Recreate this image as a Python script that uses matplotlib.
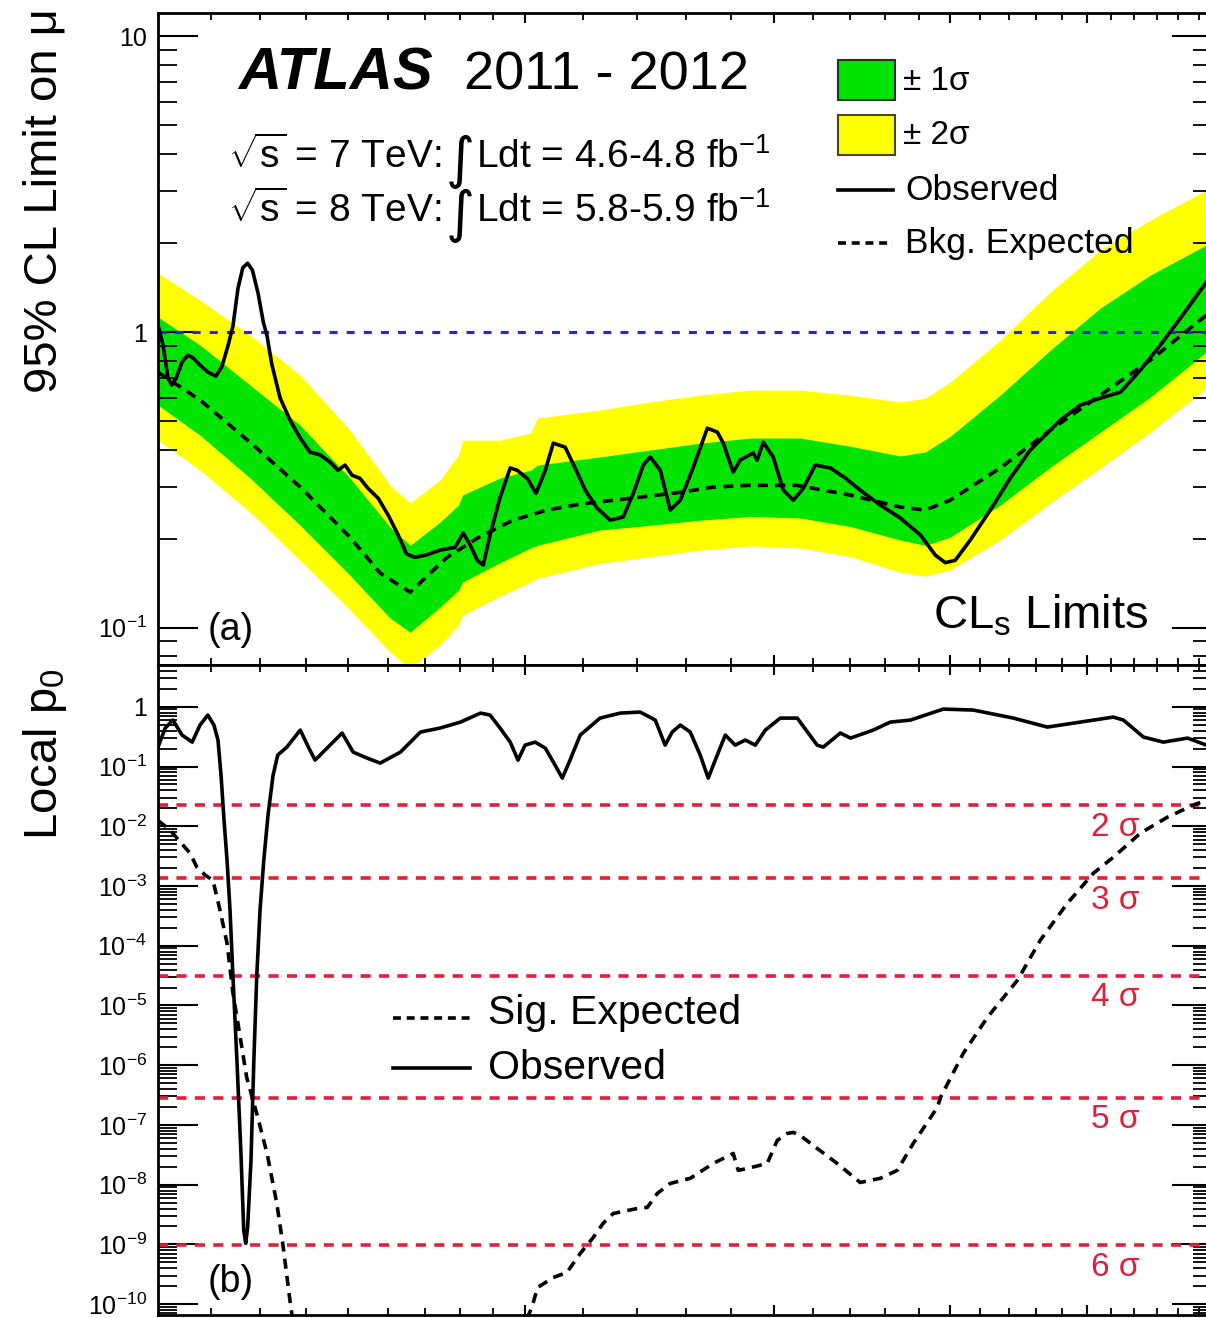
import numpy as np
import matplotlib
matplotlib.use("Agg")
import matplotlib.pyplot as plt
from matplotlib.ticker import FixedLocator, LogLocator, FuncFormatter, NullFormatter
from matplotlib.patches import Rectangle
from matplotlib.lines import Line2D

plt.rcParams['font.family'] = ['Liberation Sans', 'DejaVu Sans']
plt.rcParams['mathtext.fontset'] = 'custom'
plt.rcParams['mathtext.rm'] = 'Liberation Sans'
plt.rcParams['mathtext.it'] = 'Liberation Sans:italic'
plt.rcParams['mathtext.bf'] = 'Liberation Sans:bold'

# ---------------- (a) CLs limits on mu ----------------
band_m = [110.0, 117.8, 127.8, 138.7, 150.4, 160.6, 165.9, 174.2, 179.5, 180.7, 192.1,
          201.9, 204.2, 226.1, 245.4, 266.2, 288.8, 313.3, 339.9, 368.8, 384.2, 400.1,
          434.1, 471.0, 511.1, 554.5, 607.5, 620.0]
band_lo2 = [0.431, 0.341, 0.246, 0.169, 0.115, 0.0826, 0.0729, 0.0873, 0.102, 0.1103, 0.128,
            0.1426, 0.147, 0.165, 0.174, 0.183, 0.189, 0.186, 0.174, 0.154, 0.1494, 0.157,
            0.198, 0.264, 0.347, 0.459, 0.646, 0.70]
band_lo1 = [0.566, 0.448, 0.321, 0.222, 0.1505, 0.1077, 0.0966, 0.1173, 0.134, 0.1426, 0.166,
            0.186, 0.190, 0.214, 0.222, 0.231, 0.238, 0.235, 0.220, 0.198, 0.190, 0.2025,
            0.260, 0.349, 0.459, 0.603, 0.856, 0.93]
band_hi1 = [1.124, 0.904, 0.662, 0.484, 0.321, 0.219, 0.190, 0.2275, 0.260, 0.281, 0.321,
            0.341, 0.355, 0.378, 0.399, 0.421, 0.438, 0.438, 0.411, 0.381, 0.393, 0.444,
            0.612, 0.869, 1.206, 1.559, 1.970, 2.10]
band_hi2 = [1.584, 1.283, 0.977, 0.715, 0.466, 0.3035, 0.264, 0.316, 0.384, 0.431, 0.431,
            0.455, 0.512, 0.545, 0.580, 0.612, 0.636, 0.636, 0.612, 0.580, 0.598, 0.677,
            0.939, 1.366, 1.895, 2.393, 3.02, 3.20]

exp_m = [110.0, 117.8, 127.8, 138.7, 150.4, 158.0, 165.9, 176.2, 185.1, 196.2, 207.4, 218.9,
         237.5, 257.7, 271.9, 287.4, 311.8, 339.9, 368.8, 384.2, 400.1, 434.1, 471.0, 511.1,
         554.5, 607.5, 620.0]
exp_mu = [0.732, 0.589, 0.424, 0.299, 0.2025, 0.153, 0.132, 0.173, 0.201, 0.231, 0.250, 0.262,
          0.274, 0.287, 0.299, 0.303, 0.303, 0.281, 0.256, 0.250, 0.270, 0.347, 0.466, 0.612,
          0.804, 1.142, 1.24]

obs_m = [110.0, 110.9, 111.8, 112.5, 113.3, 114.4, 115.5, 116.5, 117.8, 119.3, 120.9, 122.1,
         123.3, 124.3, 125.3, 126.3, 127.3, 128.3, 129.5, 130.6, 131.4, 132.4, 134.2, 136.4,
         138.7, 140.9, 143.3, 145.6, 147.5, 149.2, 150.9, 152.9, 154.9, 157.5, 160.1, 162.7,
         164.9, 167.1, 170.2, 174.2, 178.5, 180.9, 183.0, 185.1, 186.9, 189.0, 192.1, 195.3,
         197.5, 200.8, 203.7, 206.8, 209.5, 213.6, 217.1, 220.7, 225.0, 229.9, 234.8, 238.7,
         242.6, 245.4, 249.4, 253.5, 257.7, 263.2, 269.3, 273.7, 276.4, 280.9, 284.1, 290.2,
         292.1, 295.0, 299.8, 304.8, 309.8, 314.9, 321.1, 329.1, 337.2, 345.5, 357.0, 368.8,
         381.1, 390.5, 396.9, 403.4, 413.4, 427.1, 441.3, 455.9, 478.8, 494.6, 511.1, 528.0,
         545.5, 563.6, 582.3, 607.5, 616.4]
obs_mu = [1.056, 0.904, 0.699, 0.662, 0.699, 0.792, 0.836, 0.817, 0.773, 0.732, 0.710, 0.767,
          0.90, 1.05, 1.40, 1.65, 1.71, 1.62, 1.35, 1.08, 0.97, 0.78, 0.60, 0.504,
          0.438, 0.393, 0.384, 0.363, 0.341, 0.355, 0.328, 0.320, 0.296, 0.274, 0.240, 0.206,
          0.178, 0.173, 0.176, 0.183, 0.187, 0.209, 0.190, 0.169, 0.163, 0.206, 0.276, 0.347,
          0.341, 0.320, 0.285, 0.341, 0.421, 0.408, 0.347, 0.292, 0.254, 0.231, 0.237, 0.285,
          0.355, 0.378, 0.341, 0.250, 0.270, 0.349, 0.473, 0.459, 0.421, 0.336, 0.369, 0.390,
          0.369, 0.424, 0.378, 0.292, 0.270, 0.296, 0.355, 0.347, 0.321, 0.292, 0.260, 0.235,
          0.206, 0.176, 0.166, 0.169, 0.198, 0.250, 0.321, 0.399, 0.504, 0.566, 0.598, 0.626,
          0.744, 0.904, 1.115, 1.476, 1.621]

# ---------------- (b) local p0 ----------------
p0_obs_m = [110.0, 111.3, 112.7, 114.4, 116.3, 117.8, 119.3, 120.5, 121.3, 121.9, 122.5, 123.1,
            123.7, 124.3, 125.1, 125.9, 126.5, 126.9, 127.3, 128.0, 128.6, 129.2, 129.9, 130.7,
            131.6, 132.7, 133.7, 135.7, 138.7, 140.9, 142.1, 145.6, 148.5, 151.2, 154.7, 158.0,
            163.3, 168.7, 174.2, 180.1, 186.1, 189.0, 192.1, 195.3, 197.8, 200.1, 203.4, 206.8,
            210.1, 212.6, 215.3, 218.9, 226.1, 233.7, 241.4, 247.4, 251.4, 254.3, 257.7, 261.9,
            266.2, 269.7, 272.8, 277.3, 281.8, 286.5, 291.2, 296.0, 303.3, 311.8, 322.1, 325.3,
            334.5, 340.1, 352.9, 362.9, 374.9, 395.6, 415.5, 443.5, 468.7, 494.6, 522.0, 530.6,
            548.2, 566.3, 589.0, 607.5, 616.4]
p0_obs = [0.211, 0.440, 0.598, 0.336, 0.256, 0.494, 0.726, 0.494, 0.277, 0.0718, 0.01265, 0.0027,
          3.93e-4, 2.97e-5, 1.21e-6, 3.75e-8, 1.71e-9, 1.04e-9, 1.93e-9, 2.55e-8, 1.21e-6, 2.97e-5,
          3.93e-4, 0.0027, 0.0153, 0.0718, 0.155, 0.211, 0.407, 0.188, 0.128, 0.228, 0.363, 0.174,
          0.138, 0.114, 0.174, 0.377, 0.440, 0.554, 0.784, 0.726, 0.440, 0.256, 0.128, 0.228,
          0.256, 0.203, 0.106, 0.064, 0.128, 0.336, 0.646, 0.784, 0.815, 0.598, 0.228, 0.377,
          0.494, 0.377, 0.155, 0.064, 0.128, 0.336, 0.228, 0.277, 0.228, 0.407, 0.646, 0.646,
          0.228, 0.211, 0.363, 0.299, 0.407, 0.554, 0.598, 0.915, 0.88, 0.646, 0.457, 0.554,
          0.672, 0.598, 0.311, 0.256, 0.299, 0.228, 0.22]

# signal-expected p0: two visible pieces, the middle range lies far below the axis
p0_sig_m = [110.0, 110.4, 112.2, 114.6, 115.9, 117.2, 118.8, 120.3, 121.7, 123.1, 124.3, 125.7,
            127.1, 129.2, 131.4, 133.5, 134.8, 136.4, 137.5, np.nan,
            200.4, 202.3, 204.2, 209.5, 214.2, 218.9, 223.6, 227.2, 231.0, 241.4, 244.2, 248.2,
            253.5, 261.9, 271.9, 280.9, 283.2, 287.4, 296.9, 301.8, 306.8, 309.8, 313.3, 320.0,
            332.8, 345.5, 357.0, 367.0, 376.7, 391.8, 393.8, 408.7, 425.1, 446.4, 463.4, 484.3,
            505.3, 522.0, 545.5, 570.1, 594.7, 607.5, 616.4]
p0_sig = [0.0125, 0.0117, 0.0086, 0.0048, 0.00354, 0.00206, 0.00152, 0.00125, 3.93e-4, 1.10e-4,
          1.6e-5, 3.2e-6, 6.27e-7, 1.56e-7, 3.34e-8, 4.86e-9, 1.04e-9, 1.15e-10, 3e-11, np.nan,
          5.3e-11, 8.8e-11, 1.9e-10, 2.8e-10, 3.4e-10, 7.07e-10, 1.31e-9, 2.25e-9, 3.30e-9,
          4.1e-9, 4.17e-9, 7.15e-9, 1.05e-8, 1.28e-8, 2.27e-8, 3.34e-8, 1.74e-8, 1.87e-8, 2.27e-8,
          5.52e-8, 7.23e-8, 7.5e-8, 6.7e-8, 4.55e-8, 2.27e-8, 1.09e-8, 1.28e-8, 1.74e-8, 4.92e-8,
          1.97e-7, 2.9e-7, 1.58e-6, 6.34e-6, 2.64e-5, 1.24e-4, 5.15e-4, 1.64e-3, 3.04e-3,
          7.66e-3, 0.0142, 0.0226, 0.0274, 0.030]

sigma_p = [2.28e-2, 1.35e-3, 3.17e-5, 2.87e-7, 9.87e-10]
sigma_names = ['2 σ', '3 σ', '4 σ', '5 σ', '6 σ']

x_major = [200, 300, 400, 500]
x_minor = list(range(120, 200, 10)) + [220, 240, 260, 280, 320, 340, 360, 380,
                                       420, 440, 460, 480, 520, 540, 560, 580, 600]

# ---------------- figure ----------------
W, H = 1206, 1318
fig = plt.figure(figsize=(W / 100, H / 100), dpi=100)
fx = lambda x: x / W
fy = lambda y: 1 - y / H

left, right = 158, 1212
ax1 = fig.add_axes([fx(left), fy(665), (right - left) / W, (665 - 13) / H])
ax2 = fig.add_axes([fx(left), fy(1315), (right - left) / W, (1315 - 665) / H])

GREEN = '#00e400'
YELLOW = '#ffff00'
RED = '#e0203a'
BLUE = '#2424e6'
LW = 2.6


def dec_label(v, pos):
    k = int(round(np.log10(v)))
    if k == 0:
        return '1'
    if k == 1:
        return '10'
    return r'$\mathregular{10^{%d}}$' % k


for ax in (ax1, ax2):
    ax.set_xscale('log')
    ax.set_yscale('log')
    ax.set_xlim(110, 613)
    ax.xaxis.set_major_locator(FixedLocator(x_major))
    ax.xaxis.set_minor_locator(FixedLocator(x_minor))
    ax.xaxis.set_major_formatter(NullFormatter())
    ax.xaxis.set_minor_formatter(NullFormatter())
    ax.yaxis.set_minor_locator(LogLocator(base=10, subs=np.arange(2, 10), numticks=200))
    ax.yaxis.set_minor_formatter(NullFormatter())
    ax.yaxis.set_major_formatter(FuncFormatter(dec_label))
    ax.tick_params(axis='y', which='major', direction='in', length=29, width=1.5,
                   left=True, right=True, labelsize=18, pad=8)
    ax.tick_params(axis='y', which='minor', direction='in', length=14, width=1.3,
                   left=True, right=True)
    ax.tick_params(axis='x', which='major', direction='in', length=7, width=1.5,
                   top=True, bottom=True, labelbottom=False)
    ax.tick_params(axis='x', which='minor', direction='in', length=5, width=1.3,
                   top=True, bottom=True)
    for sp in ax.spines.values():
        sp.set_linewidth(2.0)
        sp.set_zorder(5)

# (a)
ax1.set_ylim(0.0748, 12.0)
ax1.yaxis.set_major_locator(FixedLocator([0.1, 1, 10]))
ax1.fill_between(band_m, band_lo2, band_hi2, color=YELLOW, lw=0, zorder=1)
ax1.fill_between(band_m, band_lo1, band_hi1, color=GREEN, lw=0, zorder=1.1)
ax1.axhline(1.0, color=BLUE, lw=2.2, ls=(0, (2.6, 3.0)), zorder=2)
ax1.plot(exp_m, exp_mu, color='black', lw=LW, ls=(0, (2.8, 2.0)), zorder=3)
ax1.plot(obs_m, obs_mu, color='black', lw=LW, zorder=4, solid_joinstyle='round')

# (b)
ax2.set_ylim(6.6e-11, 5.0)
ax2.yaxis.set_major_locator(FixedLocator([10.0 ** k for k in range(-10, 1)]))
for p, name in zip(sigma_p, sigma_names):
    ax2.axhline(p, color=RED, lw=2.6, ls=(0, (2.8, 2.3)), zorder=2)
    ax2.annotate(name, xy=(0.908, p), xycoords=('axes fraction', 'data'),
                 xytext=(0, -16), textcoords='offset points', ha='center', va='center',
                 color=RED, fontsize=24)
ax2.plot(p0_sig_m, p0_sig, color='black', lw=LW, ls=(0, (2.8, 2.0)), zorder=3)
ax2.plot(p0_obs_m, p0_obs, color='black', lw=LW, zorder=4, solid_joinstyle='round')

# ---------------- labels ----------------
fig.text(fx(45), fy(8), '95% CL Limit on μ', rotation=90, ha='center', va='top', fontsize=34)
fig.text(fx(45), fy(840), r'Local p$_\mathregular{0}$', rotation=90, ha='center', va='bottom',
         fontsize=34)

fig.text(fx(238), fy(90), 'ATLAS', fontsize=43, fontweight='bold', fontstyle='italic',
         va='baseline')
fig.text(fx(464), fy(90), '2011 - 2012', fontsize=39, va='baseline')

fig.canvas.draw()
renderer = fig.canvas.get_renderer()


def luminosity_line(x0, y_base, energy, lumi):
    """Write 'sqrt(s) = E TeV: (integral) Ldt = L fb-1' piece by piece."""
    pieces = [
        (r'$\sqrt{\mathregular{s}}$' + ' = %s TeV: ' % energy, dict(fontsize=28), 0),
        ('∫', dict(fontsize=40, family=['DejaVu Sans', 'Liberation Sans']), 9),
        ('Ldt = %s fb' % lumi + r'$^{\mathregular{-1}}$', dict(fontsize=28), 0),
    ]
    x = x0
    for txt, kw, dy in pieces:
        t = fig.text(fx(x), fy(y_base + dy), txt, va='baseline', **kw)
        bb = t.get_window_extent(renderer)
        x += bb.width + 1


luminosity_line(228, 168, '7', '4.6-4.8')
luminosity_line(228, 222, '8', '5.8-5.9')

fig.text(fx(208), fy(630), '(a)', fontsize=27, va='center')
fig.text(fx(208), fy(1282), '(b)', fontsize=27, va='center')
fig.text(fx(1148), fy(628), r'CL$_\mathregular{s}$ Limits', fontsize=34, ha='right',
         va='baseline')

# legend of (a)
fig.add_artist(Rectangle((fx(838), fy(100)), 57 / W, 40 / H, transform=fig.transFigure,
                         facecolor=GREEN, edgecolor='#1a3a1a', lw=1.5, zorder=6))
fig.add_artist(Rectangle((fx(838), fy(155)), 57 / W, 40 / H, transform=fig.transFigure,
                         facecolor=YELLOW, edgecolor='#4a4a10', lw=1.5, zorder=6))
fig.text(fx(903), fy(81), '± 1σ', fontsize=24, va='center')
fig.text(fx(903), fy(136), '± 2σ', fontsize=24, va='center')
fig.add_artist(Line2D([fx(838), fx(893)], [fy(190), fy(190)], transform=fig.transFigure,
                      color='black', lw=LW))
fig.text(fx(905), fy(190), 'Observed', fontsize=25.5, va='center')
fig.add_artist(Line2D([fx(838), fx(893)], [fy(243), fy(243)], transform=fig.transFigure,
                      color='black', lw=LW, ls=(0, (2.2, 1.6))))
fig.text(fx(905), fy(243), 'Bkg. Expected', fontsize=25.5, va='center')

# legend of (b)
fig.add_artist(Line2D([fx(393), fx(470)], [fy(1018), fy(1018)], transform=fig.transFigure,
                      color='black', lw=LW, ls=(0, (2.2, 1.6))))
fig.text(fx(488), fy(1013), 'Sig. Expected', fontsize=29.5, va='center')
fig.add_artist(Line2D([fx(393), fx(470)], [fy(1068), fy(1068)], transform=fig.transFigure,
                      color='black', lw=LW))
fig.text(fx(488), fy(1068), 'Observed', fontsize=29.5, va='center')

fig.savefig('out.png', dpi=100)
